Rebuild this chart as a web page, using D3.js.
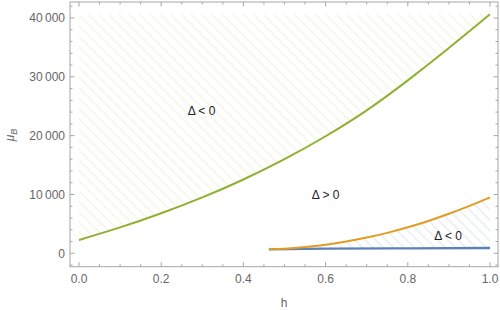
<!DOCTYPE html>
<html><head><meta charset="utf-8">
<script src="https://cdn.jsdelivr.net/npm/d3@7"></script>
<style>body{margin:0;background:#fff}svg{display:block}text{font-family:"Liberation Sans",Arial,sans-serif}</style>
</head><body>
<svg id="c" width="500" height="310"></svg>
<script>
// Data
const greenH = [0, 0.1, 0.2, 0.3, 0.4, 0.5, 0.6, 0.7, 0.8, 0.9, 1.0];
const greenMu = [2260, 4400, 6800, 9500, 12550, 16000, 19900, 24300, 29400, 34900, 40630];
const orangeH = [0.462, 0.5, 0.55, 0.6, 0.65, 0.7, 0.75, 0.8, 0.85, 0.9, 0.95, 1.0];
const orangeMu = [680, 793, 1060, 1462, 2000, 2670, 3475, 4415, 5500, 6720, 8060, 9520];
const blueH = [0.462, 0.6, 0.8, 1.0];
const blueMu = [680, 780, 850, 900];
const xMajor = [0, 0.2, 0.4, 0.6, 0.8, 1.0];
const xMajorLabels = ["0.0", "0.2", "0.4", "0.6", "0.8", "1.0"];
const yMajor = [0, 10000, 20000, 30000, 40000];
const yMajorLabels = ["0", "10\u2009000", "20\u2009000", "30\u2009000", "40\u2009000"];
const regionLabels = [
  {h: 0.298, mu: 24170, text: "\u0394 < 0"},
  {h: 0.60, mu: 9920, text: "\u0394 > 0"},
  {h: 0.898, mu: 2950, text: "\u0394 < 0"}
];

const svg = d3.select("#c");
const L = 70, R = 498, T = 2, B = 266.7;
const x = d3.scaleLinear().domain([-9/411, 1 + 8/411]).range([L, R]);
const y = d3.scaleLinear().domain([-2278, 42721]).range([B, T]);

const defs = svg.append("defs");
function hatch(id, color) {
  const p = defs.append("pattern").attr("id", id).attr("patternUnits", "userSpaceOnUse")
    .attr("width", 7.3).attr("height", 7.3).attr("patternTransform", "rotate(-45)");
  p.append("line").attr("x1", 1).attr("y1", 0).attr("x2", 1).attr("y2", 7.3)
    .attr("stroke", color).attr("stroke-width", 1);
}
hatch("hg", "#eef2d6");
hatch("hb", "#dbe4f0");

const green = greenH.map((h, i) => [h, greenMu[i]]);
const orange = orangeH.map((h, i) => [h, orangeMu[i]]);
const blue = blueH.map((h, i) => [h, blueMu[i]]);
const topMu = d3.max(greenMu);
const crv = d3.curveNatural;

svg.append("path").datum(green)
  .attr("d", d3.area().x(d => x(d[0])).y0(y(topMu)).y1(d => y(d[1])).curve(crv))
  .attr("fill", "url(#hg)");
const blueInterp = h => {
  for (let i = 0; i < blueH.length - 1; i++) {
    if (h <= blueH[i+1]) { const t = (h - blueH[i]) / (blueH[i+1] - blueH[i]); return blueMu[i] + t * (blueMu[i+1] - blueMu[i]); }
  }
  return blueMu[blueMu.length - 1];
};
svg.append("path").datum(orange)
  .attr("d", d3.area().x(d => x(d[0])).y0(d => y(blueInterp(d[0]))).y1(d => y(d[1])).curve(crv))
  .attr("fill", "url(#hb)");

const line = d3.line().x(d => x(d[0])).y(d => y(d[1])).curve(crv);
svg.append("path").datum(blue).attr("d", line).attr("fill", "none").attr("stroke", "#5E81B5").attr("stroke-width", 2.3);
svg.append("path").datum(orange).attr("d", line).attr("fill", "none").attr("stroke", "#E19C24").attr("stroke-width", 2);
svg.append("path").datum(green).attr("d", line).attr("fill", "none").attr("stroke", "#8FB032").attr("stroke-width", 2);

const axCol = "#a6a6a6";
svg.append("rect").attr("x", L).attr("y", T).attr("width", R - L).attr("height", B - T)
  .attr("fill", "none").attr("stroke", axCol).attr("stroke-width", 1);

const xMinor = d3.range(0, 1.0001, 0.05).filter(v => !xMajor.some(m => Math.abs(m - v) < 1e-6));
const yMinor = d3.range(-2000, 42001, 2000).filter(v => !yMajor.includes(v));
const g = svg.append("g").attr("stroke", axCol).attr("stroke-width", 1);
function tick(x1, y1, x2, y2) { g.append("line").attr("x1", x1).attr("y1", y1).attr("x2", x2).attr("y2", y2); }
xMajor.forEach(v => { const px = x(v); tick(px, B, px, B - 4.5); tick(px, T, px, T + 4.5); });
xMinor.forEach(v => { const px = x(v); tick(px, B, px, B - 2.5); tick(px, T, px, T + 2.5); });
yMajor.forEach(v => { const py = y(v); tick(L, py, L + 4.5, py); tick(R, py, R - 4.5, py); });
yMinor.forEach(v => { const py = y(v); tick(L, py, L + 2.5, py); tick(R, py, R - 2.5, py); });

const lblCol = "#666";
svg.append("g").selectAll("text").data(xMajor).join("text")
  .attr("x", d => x(d)).attr("y", B + 16).attr("text-anchor", "middle")
  .attr("font-size", 12).attr("fill", lblCol).text((d, i) => xMajorLabels[i]);
svg.append("g").selectAll("text").data(yMajor).join("text")
  .attr("x", L - 5).attr("y", d => y(d) + 4.2).attr("text-anchor", "end")
  .attr("font-size", 12).attr("fill", lblCol).text((d, i) => yMajorLabels[i]);

svg.append("text").attr("x", 284).attr("y", 307).attr("text-anchor", "middle")
  .attr("font-size", 12).attr("fill", lblCol).text("h");
const yl = svg.append("text").attr("transform", "translate(14,135) rotate(-90)").attr("text-anchor", "middle")
  .attr("font-size", 12).attr("fill", lblCol);
yl.append("tspan").attr("font-style", "italic").text("\u03BC");
yl.append("tspan").attr("font-style", "italic").attr("font-size", 9).attr("dy", 3).text("B");

svg.append("g").selectAll("text").data(regionLabels).join("text")
  .attr("x", d => x(d.h)).attr("y", d => y(d.mu) + 4.3).attr("text-anchor", "middle")
  .attr("font-size", 12).attr("fill", "#222").text(d => d.text);
</script>
</body></html>
